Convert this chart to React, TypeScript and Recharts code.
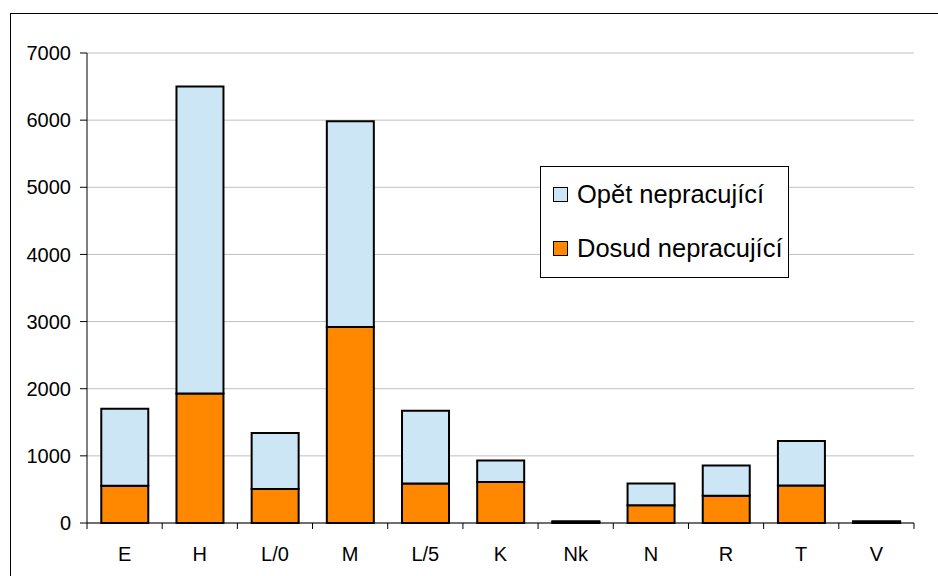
import React from 'react';
import { BarChart, Bar, XAxis, YAxis, CartesianGrid, Legend, ReferenceArea } from 'recharts';

const categories = ['E', 'H', 'L/0', 'M', 'L/5', 'K', 'Nk', 'N', 'R', 'T', 'V'];
const dosud = [555, 1930, 505, 2920, 590, 610, 15, 265, 405, 560, 15];
const opet = [1145, 4570, 835, 3065, 1080, 320, 10, 325, 450, 660, 10];
const yTicks = [0, 1000, 2000, 3000, 4000, 5000, 6000, 7000];

const data = categories.map((name, i) => ({ name, dosud: dosud[i], opet: opet[i] }));

const FONT = '"Liberation Sans", Arial, sans-serif';
const W = 938;
const H = 576;
const LEFT = 87;
const RIGHT = 24;
const PLOT_W = W - LEFT - RIGHT;
const STEP = PLOT_W / categories.length;
const TICK_SIZE = 6;
const TICK_MARGIN = 17;

function XTick(props: any) {
  const { x, y, payload } = props;
  const axisY = y - TICK_SIZE - TICK_MARGIN;
  const last = payload.value === categories[categories.length - 1];
  return (
    <g>
      <line x1={x - STEP / 2} x2={x - STEP / 2} y1={axisY} y2={axisY + TICK_SIZE} stroke="#000" />
      {last && <line x1={x + STEP / 2} x2={x + STEP / 2} y1={axisY} y2={axisY + TICK_SIZE} stroke="#000" />}
      <text x={x} y={y} dy="0.75em" textAnchor="middle" fill="#000" fontSize={20} fontFamily={FONT}>
        {payload.value}
      </text>
    </g>
  );
}

function LegendBox() {
  const items = [
    { label: 'Opět nepracující', color: '#CCE6F6' },
    { label: 'Dosud nepracující', color: '#FF8800' },
  ];
  return (
    <div
      style={{
        width: 249,
        height: 112,
        border: '1px solid #000',
        background: '#fff',
        boxSizing: 'border-box',
        fontFamily: FONT,
        fontSize: 25.5,
        color: '#000',
      }}
    >
      {items.map((it) => (
        <div key={it.label} style={{ display: 'flex', alignItems: 'center', height: 54, whiteSpace: 'nowrap' }}>
          <span
            style={{
              display: 'inline-block',
              width: 13,
              height: 13,
              background: it.color,
              border: '1px solid #000',
              marginLeft: 12,
              marginRight: 9,
              flexShrink: 0,
            }}
          />
          <span>{it.label}</span>
        </div>
      ))}
    </div>
  );
}

export default function App() {
  return (
    <div style={{ position: 'absolute', left: 0, top: 0, width: W, height: H, background: '#fff', overflow: 'hidden' }}>
      <div
        style={{
          position: 'absolute',
          left: 10,
          top: 13,
          width: 960,
          height: 600,
          border: '1px solid #000',
        }}
      />
      <div style={{ position: 'absolute', left: 0, top: 0 }}>
        <BarChart
          width={W}
          height={H}
          data={data}
          margin={{ top: 53, right: RIGHT, left: 0, bottom: 0 }}
          barCategoryGap="19%"
        >
          <CartesianGrid horizontal vertical={false} stroke="#c0c0c0" />
          <XAxis
            dataKey="name"
            height={53}
            tickLine={false}
            tickSize={TICK_SIZE}
            tickMargin={TICK_MARGIN}
            axisLine={{ stroke: '#000' }}
            tick={<XTick />}
            interval={0}
          />
          <YAxis
            width={LEFT}
            domain={[0, 7000]}
            ticks={yTicks}
            tickSize={7}
            tickMargin={9}
            axisLine={{ stroke: '#000' }}
            tickLine={{ stroke: '#000' }}
            tick={{ fill: '#000', fontSize: 20, fontFamily: FONT }}
          />
          <ReferenceArea fill="none" stroke="#000" strokeWidth={1} ifOverflow="visible" />
          <Bar dataKey="dosud" name="Dosud nepracující" stackId="a" fill="#FF8800" stroke="#000" strokeWidth={2} isAnimationActive={false} />
          <Bar dataKey="opet" name="Opět nepracující" stackId="a" fill="#CCE6F6" stroke="#000" strokeWidth={2} isAnimationActive={false} />
          <Legend
            layout="vertical"
            verticalAlign="middle"
            align="center"
            wrapperStyle={{ left: 540, top: 166, width: 249, height: 112 }}
            content={() => <LegendBox />}
          />
        </BarChart>
      </div>
    </div>
  );
}
